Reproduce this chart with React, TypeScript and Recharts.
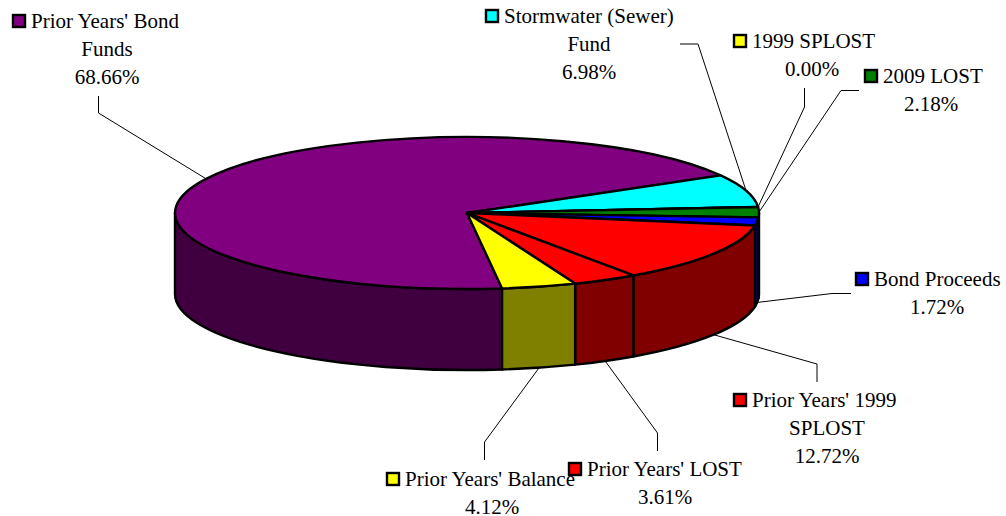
import { Pie, PieChart } from "recharts";

const names = [
  "Prior Years' Bond Funds",
  "Stormwater (Sewer) Fund",
  "1999 SPLOST",
  "2009 LOST",
  "Bond Proceeds",
  "Prior Years' 1999 SPLOST",
  "Prior Years' LOST",
  "Prior Years' Balance",
];
const shares = [68.66, 6.98, 0.0, 2.18, 1.72, 12.72, 3.61, 4.12];
const topColors = ["#800080", "#00ffff", "#ffff00", "#008000", "#0000ff", "#ff0000", "#ff0000", "#ffff00"];
const wallColors = ["#400040", "#008080", "#808000", "#004000", "#000080", "#800000", "#800000", "#808000"];

// wrapped label lines, the value goes underneath
const labelLines = [
  ["Prior Years' Bond", "Funds"],
  ["Stormwater (Sewer)", "Fund"],
  ["1999 SPLOST"],
  ["2009 LOST"],
  ["Bond Proceeds"],
  ["Prior Years' 1999", "SPLOST"],
  ["Prior Years' LOST"],
  ["Prior Years' Balance"],
];

// where each label block sits: first line start, block centre, first baseline, leader points
const labelSpots = [
  { x: 31, center: 107, y: 28, leader: [[98.5, 96], [98.5, 113]] },
  { x: 504, center: 589, y: 23, leader: [[680, 44], [698, 44]] },
  { x: 752, center: 812, y: 48, leader: [[804.5, 88], [804.5, 107]] },
  { x: 883, center: 931, y: 83, leader: [[859, 90.5], [841, 90.5]] },
  { x: 874, center: 937, y: 286, leader: [[851, 293.5], [832, 293.5]] },
  { x: 752, center: 827, y: 407, leader: [[817, 382], [817, 364]] },
  { x: 587, center: 665, y: 476, leader: [[657.5, 451], [657.5, 433]] },
  { x: 405, center: 492, y: 486, leader: [[484.5, 460], [484.5, 442]] },
];

const chartData = names.map((name, i) => ({
  name,
  value: shares[i],
  fill: topColors[i],
  wall: wallColors[i],
}));

const SQUASH = 76 / 292;
const DEPTH = 81;
const START_ANGLE = -83.1;
const FONT = "'Liberation Serif', serif";
const FONT_SIZE = 21;
const LINE_GAP = 28;

function rim(cx: number, cy: number, r: number, deg: number) {
  const a = (deg * Math.PI) / 180;
  return [cx + r * Math.cos(a), cy - r * SQUASH * Math.sin(a)];
}

function TopFace(props: any) {
  const { cx, cy, outerRadius: r, startAngle, endAngle, fill } = props;
  const [x1, y1] = rim(cx, cy, r, startAngle);
  const [x2, y2] = rim(cx, cy, r, endAngle);
  const large = Math.abs(startAngle - endAngle) > 180 ? 1 : 0;
  return (
    <path
      d={`M${cx},${cy}L${x1},${y1}A${r},${r * SQUASH} 0 ${large} 1 ${x2},${y2}Z`}
      fill={fill}
      stroke="#000"
      strokeWidth={2.4}
      strokeLinejoin="round"
    />
  );
}

// only the part of the rim facing the viewer gets a wall
function SideWall(props: any) {
  const { cx, cy, outerRadius: r, startAngle, endAngle, wall } = props;
  const parts = [];
  for (const turn of [0, -360]) {
    const from = Math.min(startAngle, turn);
    const to = Math.max(endAngle, turn - 180);
    if (from > to) parts.push([from, to]);
  }
  return (
    <g>
      {parts.map(([from, to]) => {
        const [x1, y1] = rim(cx, cy, r, from);
        const [x2, y2] = rim(cx, cy, r, to);
        const ry = r * SQUASH;
        return (
          <path
            key={from}
            d={`M${x1},${y1}A${r},${ry} 0 0 1 ${x2},${y2}L${x2},${y2 + DEPTH}A${r},${ry} 0 0 0 ${x1},${y1 + DEPTH}Z`}
            fill={wall}
            stroke="#000"
            strokeWidth={2.4}
            strokeLinejoin="round"
          />
        );
      })}
    </g>
  );
}

function SliceLabel(props: any) {
  const { cx, cy, outerRadius: r, midAngle, index } = props;
  const spot = labelSpots[index];
  const lines = labelLines[index];
  let [ex, ey] = rim(cx, cy, r, midAngle);
  if (Math.sin((midAngle * Math.PI) / 180) < 0) ey += DEPTH;
  const points = [...spot.leader, [ex, ey]].map((p) => p.join(",")).join(" ");
  return (
    <g fontFamily={FONT} fontSize={FONT_SIZE} fill="#000">
      <polyline points={points} fill="none" stroke="#000" strokeWidth={1} />
      <rect
        x={spot.x - 18}
        y={spot.y - 13}
        width={12}
        height={12}
        fill={topColors[index]}
        stroke="#000"
        strokeWidth={2.4}
      />
      <text x={spot.x} y={spot.y} stroke="none">
        {lines[0]}
      </text>
      {lines.slice(1).map((line, i) => (
        <text key={line} x={spot.center} y={spot.y + LINE_GAP * (i + 1)} textAnchor="middle" stroke="none">
          {line}
        </text>
      ))}
      <text x={spot.center} y={spot.y + LINE_GAP * lines.length} textAnchor="middle" stroke="none">
        {shares[index].toFixed(2)}%
      </text>
    </g>
  );
}

export default function App() {
  return (
    <div style={{ position: "absolute", left: 0, top: 0, width: 1006, height: 516, background: "#fff" }}>
      <PieChart width={1006} height={516} margin={{ top: 0, right: 0, bottom: 0, left: 0 }}>
        <Pie
          data={chartData}
          dataKey="value"
          nameKey="name"
          cx={467}
          cy={213}
          outerRadius={292}
          startAngle={START_ANGLE}
          endAngle={START_ANGLE - 360}
          shape={SideWall}
          label={false}
          labelLine={false}
          isAnimationActive={false}
        />
        <Pie
          data={chartData}
          dataKey="value"
          nameKey="name"
          cx={467}
          cy={213}
          outerRadius={292}
          startAngle={START_ANGLE}
          endAngle={START_ANGLE - 360}
          shape={TopFace}
          label={SliceLabel}
          labelLine={false}
          isAnimationActive={false}
        />
      </PieChart>
    </div>
  );
}
